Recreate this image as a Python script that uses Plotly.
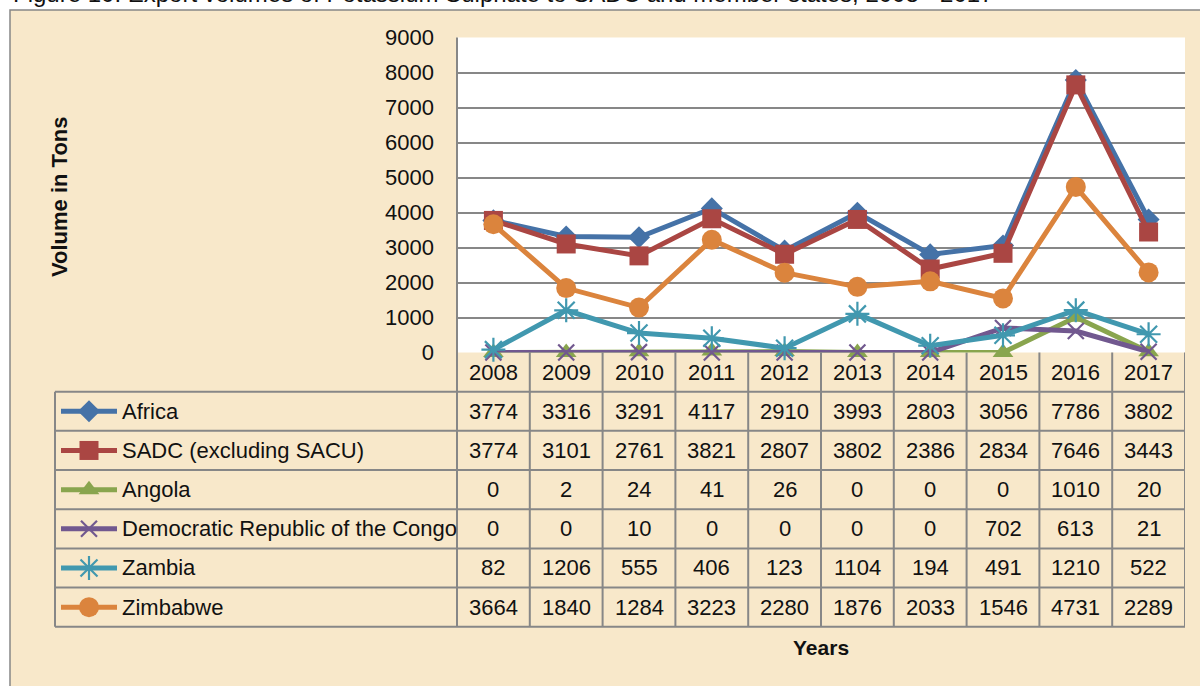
import plotly.graph_objects as go

# ---------------- data ----------------
years = ["2008", "2009", "2010", "2011", "2012", "2013", "2014", "2015", "2016", "2017"]
series_names = ["Africa", "SADC (excluding SACU)", "Angola",
                "Democratic Republic of the Congo", "Zambia", "Zimbabwe"]
africa = [3774, 3316, 3291, 4117, 2910, 3993, 2803, 3056, 7786, 3802]
sadc = [3774, 3101, 2761, 3821, 2807, 3802, 2386, 2834, 7646, 3443]
angola = [0, 2, 24, 41, 26, 0, 0, 0, 1010, 20]
drc = [0, 0, 10, 0, 0, 0, 0, 702, 613, 21]
zambia = [82, 1206, 555, 406, 123, 1104, 194, 491, 1210, 522]
zimbabwe = [3664, 1840, 1284, 3223, 2280, 1876, 2033, 1546, 4731, 2289]
y_ticks = [0, 1000, 2000, 3000, 4000, 5000, 6000, 7000, 8000, 9000]

title_text = "Figure 10: Export volumes of Potassium Sulphate to SADC and member states, 2008 - 2017"
y_title = "Volume in Tons"
x_title = "Years"

# ---------------- styles ----------------
colors = ["#4572A7", "#AA4643", "#89A54E", "#71588F", "#4198AF", "#DB843D"]
symbols = ["diamond", "square", "triangle-up", "x-thin-open", "asterisk-open", "circle"]
sizes = [17, 19, 18, 16, 20, 20]
FONT = "Liberation Sans, Arial, sans-serif"
FS = 22
PANEL = "#F8E8CA"
GRID = "#878787"
TXT = "#111111"

W, H = 1200, 686
def px(x):
    return x / W
def py(y):
    return (H - y) / H

PLOT_L, PLOT_R, PLOT_T, PLOT_B = 457, 1185, 37.5, 352.5
TABLE_L = 55
TABLE_T = 391.7
ROW_H = 39.17
TABLE_B = TABLE_T + len(series_names) * ROW_H
KEY_X0, KEY_XM, KEY_X1 = 61, 89, 117
LABEL_X = 119.5

all_values = [africa, sadc, angola, drc, zambia, zimbabwe]

fig = go.Figure()

# chart lines
for name, vals, c, s, sz in zip(series_names, all_values, colors, symbols, sizes):
    mk = dict(symbol=s, size=sz, color=c, opacity=1)
    if s.endswith("-open"):
        mk["line"] = dict(color=c, width=2.2)
    else:
        mk["line"] = dict(width=0)
    fig.add_trace(go.Scatter(
        x=years, y=vals, name=name, mode="lines+markers",
        line=dict(color=c, width=5), marker=mk, cliponaxis=False,
        showlegend=False, xaxis="x", yaxis="y"))

# legend keys inside the data table (overlay axes in pixel units)
for i, (name, c, s, sz) in enumerate(zip(series_names, colors, symbols, sizes)):
    yc = TABLE_T + (i + 0.5) * ROW_H
    mk = dict(symbol=s, size=[0, sz, 0], color=c, opacity=1)
    if s.endswith("-open"):
        mk["line"] = dict(color=c, width=2.2)
    else:
        mk["line"] = dict(width=0)
    fig.add_trace(go.Scatter(
        x=[KEY_X0, KEY_XM, KEY_X1], y=[yc, yc, yc], mode="lines+markers",
        line=dict(color=c, width=5), marker=mk, cliponaxis=False,
        showlegend=False, hoverinfo="skip", xaxis="x2", yaxis="y2"))

shapes = []
# panel background
shapes.append(dict(type="rect", xref="paper", yref="paper",
                   x0=px(10), x1=px(1215), y0=py(700), y1=py(10),
                   fillcolor=PANEL, line=dict(color=GRID, width=1.5), layer="below"))
# white plot area
shapes.append(dict(type="rect", xref="paper", yref="paper",
                   x0=px(PLOT_L), x1=px(PLOT_R), y0=py(PLOT_B), y1=py(PLOT_T),
                   fillcolor="white", line=dict(width=0), layer="below"))
# table horizontal lines
for r in range(len(series_names) + 1):
    yy = TABLE_T + r * ROW_H
    shapes.append(dict(type="line", xref="paper", yref="paper",
                       x0=px(TABLE_L), x1=px(PLOT_R), y0=py(yy), y1=py(yy),
                       line=dict(color=GRID, width=2), layer="below"))
# table left border
shapes.append(dict(type="line", xref="paper", yref="paper",
                   x0=px(TABLE_L), x1=px(TABLE_L), y0=py(TABLE_T), y1=py(TABLE_B),
                   line=dict(color=GRID, width=2), layer="below"))
# value axis line, extended down through the table
shapes.append(dict(type="line", xref="paper", yref="paper",
                   x0=px(PLOT_L), x1=px(PLOT_L), y0=py(TABLE_B), y1=py(PLOT_T),
                   line=dict(color=GRID, width=2), layer="below"))
# category boundaries
for i in range(len(years)):
    shapes.append(dict(type="line", xref="x", yref="paper",
                       x0=i + 0.5, x1=i + 0.5, y0=py(TABLE_B), y1=py(PLOT_B),
                       line=dict(color=GRID, width=2), layer="below"))

ann = []
# year header row
for i, yr in enumerate(years):
    ann.append(dict(x=i, y=py((PLOT_B + TABLE_T) / 2), xref="x", yref="paper",
                    text=yr, showarrow=False, xanchor="center", yanchor="middle",
                    font=dict(family=FONT, size=FS, color=TXT)))
# data cells and row labels
for r, (name, vals) in enumerate(zip(series_names, all_values)):
    yc = py(TABLE_T + (r + 0.5) * ROW_H)
    ann.append(dict(x=px(LABEL_X), y=yc, xref="paper", yref="paper", text=name,
                    showarrow=False, xanchor="left", yanchor="middle",
                    font=dict(family=FONT, size=FS, color=TXT)))
    for i, v in enumerate(vals):
        ann.append(dict(x=i, y=yc, xref="x", yref="paper", text=str(v),
                        showarrow=False, xanchor="center", yanchor="middle",
                        font=dict(family=FONT, size=FS, color=TXT)))
# titles
ann.append(dict(x=px(59), y=py(197), xref="paper", yref="paper", text="<b>%s</b>" % y_title,
                textangle=-90, showarrow=False, xanchor="center", yanchor="middle",
                font=dict(family=FONT, size=22, color=TXT)))
ann.append(dict(x=px((PLOT_L + PLOT_R) / 2), y=py(647), xref="paper", yref="paper",
                text="<b>%s</b>" % x_title, showarrow=False, xanchor="center", yanchor="middle",
                font=dict(family=FONT, size=21, color=TXT)))
ann.append(dict(x=px(11), y=py(-7), xref="paper", yref="paper", text=title_text,
                showarrow=False, xanchor="left", yanchor="middle",
                font=dict(family=FONT, size=24, color=TXT)))

fig.update_layout(
    template="none",
    width=W, height=H, margin=dict(l=0, r=0, t=0, b=0, pad=0, autoexpand=False),
    paper_bgcolor="white", plot_bgcolor="rgba(0,0,0,0)",
    showlegend=False, shapes=shapes, annotations=ann,
    xaxis=dict(domain=[px(PLOT_L), px(PLOT_R)], type="category", range=[-0.5, 9.5],
               showgrid=False, showticklabels=False, zeroline=False, showline=False,
               ticks="", fixedrange=True, anchor="y", automargin=False),
    yaxis=dict(domain=[py(PLOT_B), py(PLOT_T)], range=[0, 9000], tickvals=y_ticks,
               showgrid=True, gridcolor=GRID, gridwidth=2, zeroline=False, showline=False,
               ticks="", ticklabelstandoff=22, automargin=False,
               tickfont=dict(family=FONT, size=FS, color=TXT), fixedrange=True, anchor="x"),
    xaxis2=dict(domain=[0, 1], range=[0, W], visible=False, fixedrange=True, anchor="y2",
                automargin=False),
    yaxis2=dict(domain=[0, 1], range=[H, 0], visible=False, fixedrange=True, anchor="x2",
                automargin=False),
)

fig.write_html("out.html", config={"displayModeBar": False},
               post_script="document.body.style.margin='0';document.body.style.overflow='hidden';")
